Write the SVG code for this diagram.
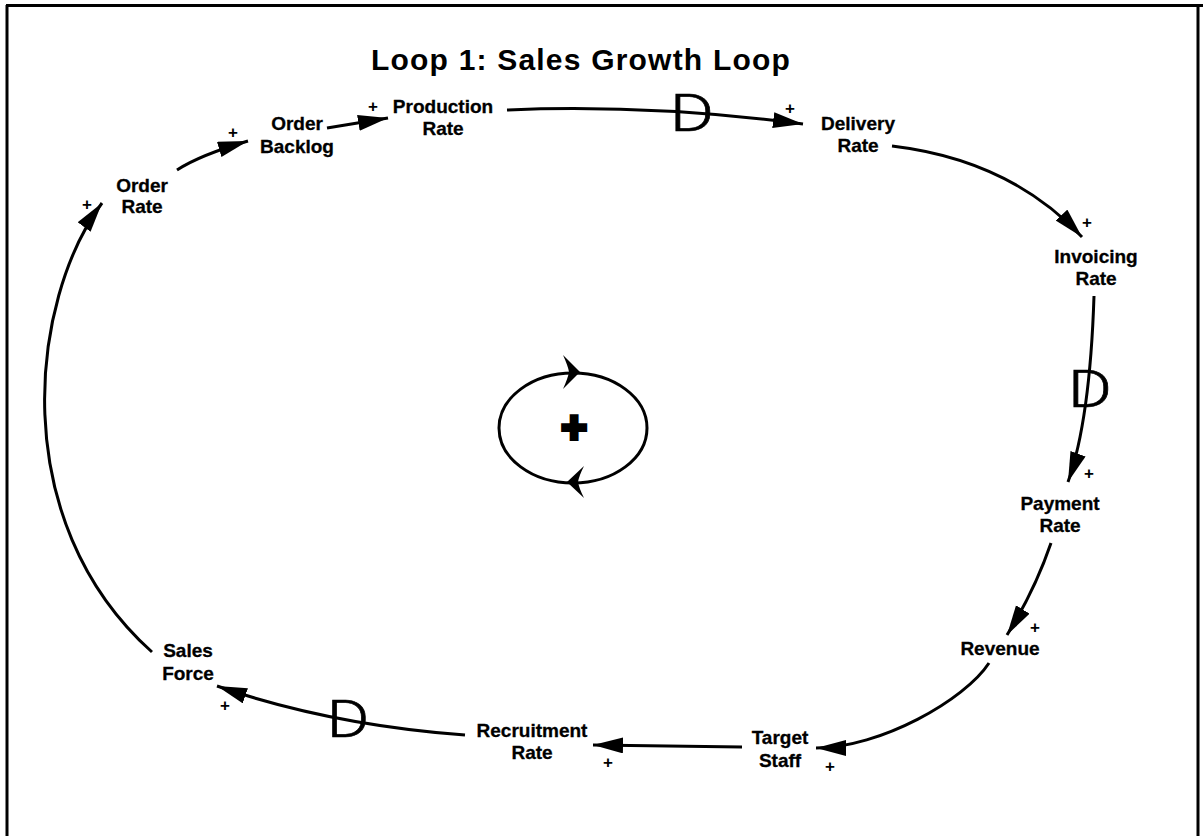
<svg xmlns="http://www.w3.org/2000/svg" width="1203" height="836" viewBox="0 0 1203 836">
<style>
.lbl{font-family:"Liberation Sans",Arial,Helvetica,sans-serif;font-weight:bold;font-size:19px;fill:#000;text-anchor:middle;stroke:#000;stroke-width:0.3}
.pl{font-family:"Liberation Sans",Arial,sans-serif;font-weight:bold;font-size:17px;fill:#000;text-anchor:middle}
.dl{font-family:Roboto,"Open Sans","Noto Sans",sans-serif;font-weight:300;font-size:52px;fill:#000;stroke:#000;stroke-width:0.6;text-anchor:middle}
.ttl{font-family:"Liberation Sans",Arial,Helvetica,sans-serif;font-weight:bold;font-size:30px;letter-spacing:1.2px;fill:#000;text-anchor:middle}
.cn{fill:none;stroke:#000;stroke-width:3;marker-end:url(#ah)}
.frame{stroke:#000;stroke-width:3;fill:none}
</style>
<defs>
<marker id="ah" markerUnits="userSpaceOnUse" markerWidth="32" markerHeight="18" refX="30" refY="8" orient="auto">
<path d="M0,0 L30,8 L0,16 Z" fill="#000"/>
</marker>
</defs>
<rect width="1203" height="836" fill="#fff"/>
<g id="frame">
<path class="frame" d="M6,5.5 L1203,5.5 M7,5 L7,836 M1198,5 L1198,836"/>
</g>
<text class="ttl" x="581" y="70">Loop 1: Sales Growth Loop</text>
<g id="connectors">
<path class="cn" d="M177,170 Q200,155 248,141"/>
<path class="cn" d="M327,128 L388,118"/>
<path class="cn" d="M507,110 Q650,104 803,124"/>
<path class="cn" d="M892,146 Q1010,160 1082,237"/>
<path class="cn" d="M1094,296 Q1090,420 1068,482"/>
<path class="cn" d="M1051,543 Q1035,590 1007,635"/>
<path class="cn" d="M989,663 C965,700 880,748 816,748"/>
<path class="cn" d="M742,747 L593,745"/>
<path class="cn" d="M465,735 Q330,725 217,686"/>
<path class="cn" d="M152,652 C5,520 30,300 102,203"/>
<text class="dl" transform="translate(692,131) scale(1.3,1)">D</text>
<text class="dl" transform="translate(1090,407) scale(1.3,1)">D</text>
<text class="dl" transform="translate(348,737) scale(1.25,1)">D</text>
</g>
<g id="polarities">
<text class="pl" x="87" y="210">+</text>
<text class="pl" x="233" y="138">+</text>
<text class="pl" x="373" y="112">+</text>
<text class="pl" x="790" y="114">+</text>
<text class="pl" x="1087" y="228">+</text>
<text class="pl" x="1089" y="479">+</text>
<text class="pl" x="1035" y="633">+</text>
<text class="pl" x="830" y="772">+</text>
<text class="pl" x="608" y="768">+</text>
<text class="pl" x="225" y="711">+</text>
</g>
<g id="order-rate"><text class="lbl" x="142" y="192">Order</text><text class="lbl" x="142" y="213">Rate</text></g>
<g id="order-backlog"><text class="lbl" x="297" y="130">Order</text><text class="lbl" x="297" y="153">Backlog</text></g>
<g id="production-rate"><text class="lbl" x="443" y="113">Production</text><text class="lbl" x="443" y="135">Rate</text></g>
<g id="delivery-rate"><text class="lbl" x="858" y="130">Delivery</text><text class="lbl" x="858" y="152">Rate</text></g>
<g id="invoicing-rate"><text class="lbl" x="1096" y="263">Invoicing</text><text class="lbl" x="1096" y="285">Rate</text></g>
<g id="payment-rate"><text class="lbl" x="1060" y="510">Payment</text><text class="lbl" x="1060" y="532">Rate</text></g>
<g id="revenue"><text class="lbl" x="1000" y="655">Revenue</text></g>
<g id="target-staff"><text class="lbl" x="780" y="744">Target</text><text class="lbl" x="780" y="767">Staff</text></g>
<g id="recruitment-rate"><text class="lbl" x="532" y="737">Recruitment</text><text class="lbl" x="532" y="759">Rate</text></g>
<g id="sales-force"><text class="lbl" x="188" y="657">Sales</text><text class="lbl" x="188" y="680">Force</text></g>
<g id="loop-symbol">
<ellipse cx="573" cy="428" rx="74" ry="55" fill="none" stroke="#000" stroke-width="3"/>
<path d="M580,372 L563,355 Q568,366 569,372 Q568,378 563,389 Z" fill="#000"/>
<path d="M567,482 L584,466 Q579,476 578,482 Q579,488 584,498 Z" fill="#000"/>
<text x="574" y="443" font-family="Liberation Sans,Arial,sans-serif" font-weight="bold" font-size="44" text-anchor="middle" fill="#000" stroke="#000" stroke-width="4">+</text>
</g>
</svg>
